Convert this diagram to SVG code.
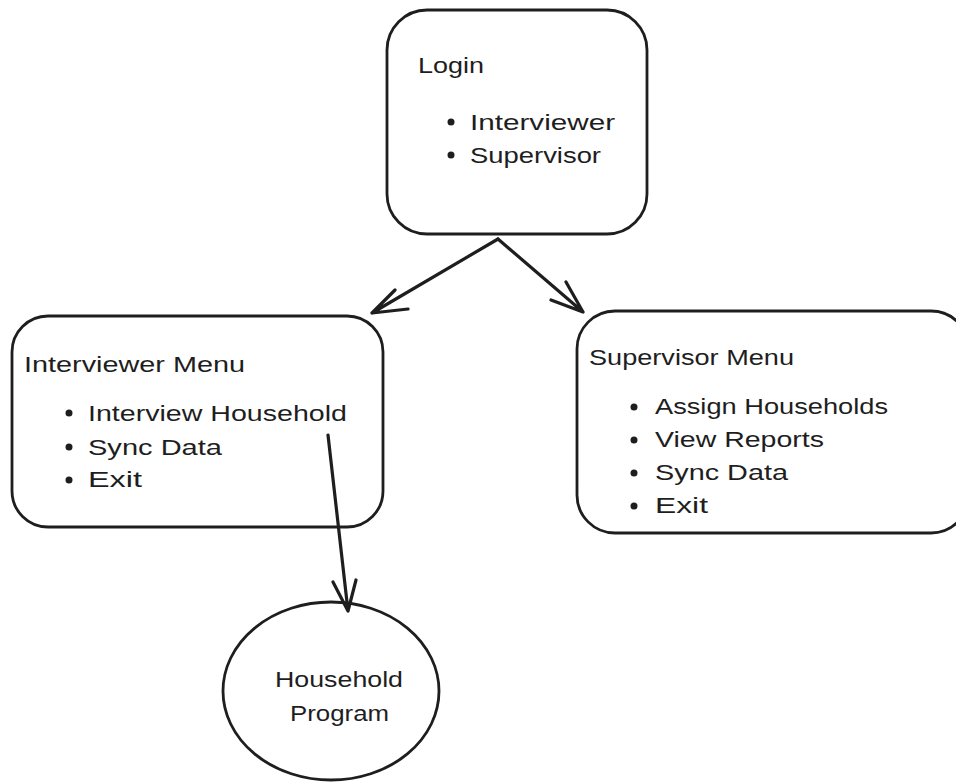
<svg xmlns="http://www.w3.org/2000/svg" width="956" height="782" viewBox="0 0 956 782">
<style>
.box{fill:#ffffff;stroke:#1e1e1e;stroke-width:2.8}
.t{font-family:"Liberation Sans","Noto Sans",sans-serif;font-size:22px;fill:#1e1e1e}
.b{fill:#1e1e1e}
.ln{fill:none;stroke:#1e1e1e;stroke-width:3.2;stroke-linecap:round;stroke-linejoin:round}
</style>
<rect width="956" height="782" fill="#ffffff"/>
<g id="login">
<rect class="box" x="387" y="10" width="260" height="224" rx="40"/>
<text class="t" x="418" y="73" textLength="66" lengthAdjust="spacingAndGlyphs">Login</text>
<circle class="b" cx="451" cy="122" r="3.5"/>
<text class="t" x="470" y="130" textLength="145" lengthAdjust="spacingAndGlyphs">Interviewer</text>
<circle class="b" cx="451" cy="155" r="3.5"/>
<text class="t" x="470" y="163" textLength="131" lengthAdjust="spacingAndGlyphs">Supervisor</text>
</g>
<g id="interviewer-menu">
<rect class="box" x="12" y="316" width="371" height="211" rx="36"/>
<text class="t" x="24" y="372" textLength="221" lengthAdjust="spacingAndGlyphs">Interviewer Menu</text>
<circle class="b" cx="69" cy="413" r="3.5"/>
<text class="t" x="88" y="421" textLength="259" lengthAdjust="spacingAndGlyphs">Interview Household</text>
<circle class="b" cx="69" cy="447" r="3.5"/>
<text class="t" x="88" y="455" textLength="134" lengthAdjust="spacingAndGlyphs">Sync Data</text>
<circle class="b" cx="69" cy="480" r="3.5"/>
<text class="t" x="88" y="487" textLength="54" lengthAdjust="spacingAndGlyphs">Exit</text>
</g>
<g id="supervisor-menu">
<rect class="box" x="577" y="311" width="392" height="222" rx="38"/>
<text class="t" x="589" y="365" textLength="205" lengthAdjust="spacingAndGlyphs">Supervisor Menu</text>
<circle class="b" cx="634" cy="407" r="3.5"/>
<text class="t" x="655" y="414" textLength="233" lengthAdjust="spacingAndGlyphs">Assign Households</text>
<circle class="b" cx="634" cy="440" r="3.5"/>
<text class="t" x="655" y="447" textLength="169" lengthAdjust="spacingAndGlyphs">View Reports</text>
<circle class="b" cx="634" cy="473" r="3.5"/>
<text class="t" x="655" y="480" textLength="133" lengthAdjust="spacingAndGlyphs">Sync Data</text>
<circle class="b" cx="634" cy="506" r="3.5"/>
<text class="t" x="655" y="513" textLength="53" lengthAdjust="spacingAndGlyphs">Exit</text>
</g>
<g id="household-program">
<ellipse class="box" cx="331" cy="691" rx="108" ry="89"/>
<text class="t" x="275" y="687" textLength="128" lengthAdjust="spacingAndGlyphs">Household</text>
<text class="t" x="290" y="721" textLength="99" lengthAdjust="spacingAndGlyphs">Program</text>
</g>
<g id="connectors">
<path class="ln" d="M498 239 L372 313 M395 290 L372 313 L408 309"/>
<path class="ln" d="M498 239 L583 312 M566 282 L583 312 L551 300"/>
<path class="ln" d="M328 435 L348 611 M333 582 L348 611 L356 580"/>
</g>
</svg>
